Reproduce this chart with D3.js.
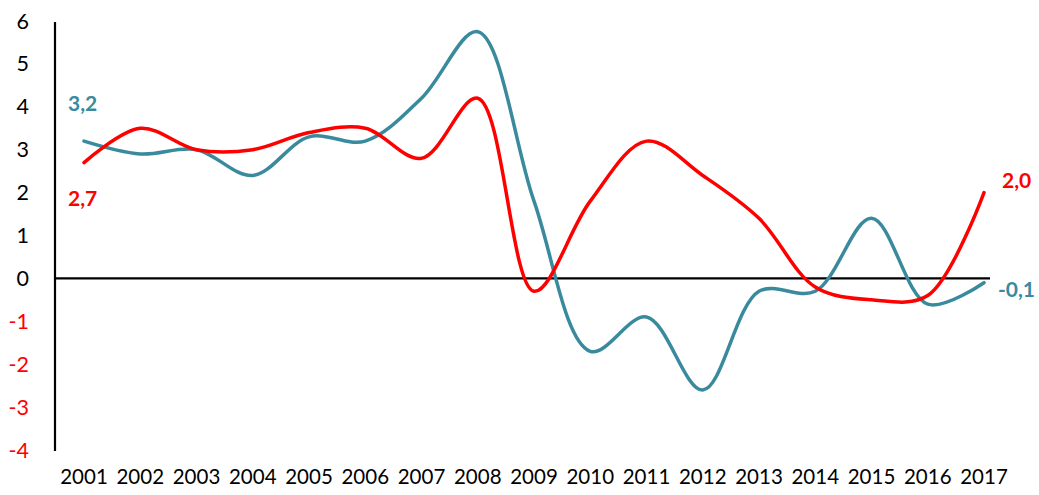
<!DOCTYPE html>
<html><head><meta charset="utf-8">
<script src="https://cdn.jsdelivr.net/npm/d3@7"></script>
<style>body{margin:0;background:#fff}svg{display:block}</style>
</head><body><svg id="c" width="1039" height="495"></svg>
<script>
const years = ["2001","2002","2003","2004","2005","2006","2007","2008","2009","2010","2011","2012","2013","2014","2015","2016","2017"];
const tealValues = [3.2,2.9,3.0,2.4,3.3,3.2,4.2,5.75,1.8,-1.7,-0.9,-2.6,-0.3,-0.3,1.4,-0.6,-0.1];
const redValues = [2.7,3.5,3.0,3.0,3.4,3.5,2.8,4.2,-0.3,1.8,3.2,2.4,1.4,-0.2,-0.5,-0.4,2.0];
const yTicks = [-4,-3,-2,-1,0,1,2,3,4,5,6];
const tealColor = "#3a8a9e", redColor = "#ff0000";

const svg = d3.select("#c");
const font = "Lato, 'Open Sans', sans-serif";
const x = d3.scalePoint().domain(years).range([84, 984]);
const y = d3.scaleLinear().domain([-4, 6]).range([450, 21]);

svg.append("line").attr("x1",55).attr("x2",55).attr("y1",y(6)+1).attr("y2",y(-4)+1)
  .attr("stroke","#000").attr("stroke-width",2.2);
svg.append("line").attr("x1",55).attr("x2",990).attr("y1",y(0)).attr("y2",y(0))
  .attr("stroke","#000").attr("stroke-width",2.2);

svg.selectAll("text.yt").data(yTicks).join("text").attr("class","yt")
  .attr("x",29).attr("y",d=>y(d)).attr("dy","0.35em")
  .attr("text-anchor","end").attr("font-family",font).attr("font-size",21.5)
  .attr("fill",d=>d<0?redColor:"#000").text(d=>d);

svg.selectAll("text.xt").data(years).join("text").attr("class","xt")
  .attr("x",d=>x(d)).attr("y",484).attr("text-anchor","middle")
  .attr("font-family",font).attr("font-size",20.5).attr("fill","#000").text(d=>d);

const line = d3.line().x((d,i)=>x(years[i])).y(d=>y(d)).curve(d3.curveCatmullRom.alpha(0.5));
svg.append("path").datum(tealValues).attr("d",line).attr("fill","none")
  .attr("stroke",tealColor).attr("stroke-width",3.5).attr("stroke-linecap","round");
svg.append("path").datum(redValues).attr("d",line).attr("fill","none")
  .attr("stroke",redColor).attr("stroke-width",3.5).attr("stroke-linecap","round");

const fmt = v => d3.format(".1f")(v).replace(".",",");
const lbl = (txt,xx,yy,col,anchor) => svg.append("text").attr("x",xx).attr("y",yy)
  .attr("text-anchor",anchor||"start").attr("font-family",font).attr("font-weight","bold")
  .attr("font-size",21).attr("fill",col).text(txt);
lbl(fmt(tealValues[0]), x(years[0])-16, y(tealValues[0])-30, tealColor);
lbl(fmt(redValues[0]), x(years[0])-16, y(redValues[0])+43, redColor);
lbl(fmt(redValues[16]), x(years[16])+18, y(redValues[16])-5, redColor);
lbl(fmt(tealValues[16]).replace("\u2212","-"), 1035, y(tealValues[16])+14, tealColor, "end");
</script></body></html>
